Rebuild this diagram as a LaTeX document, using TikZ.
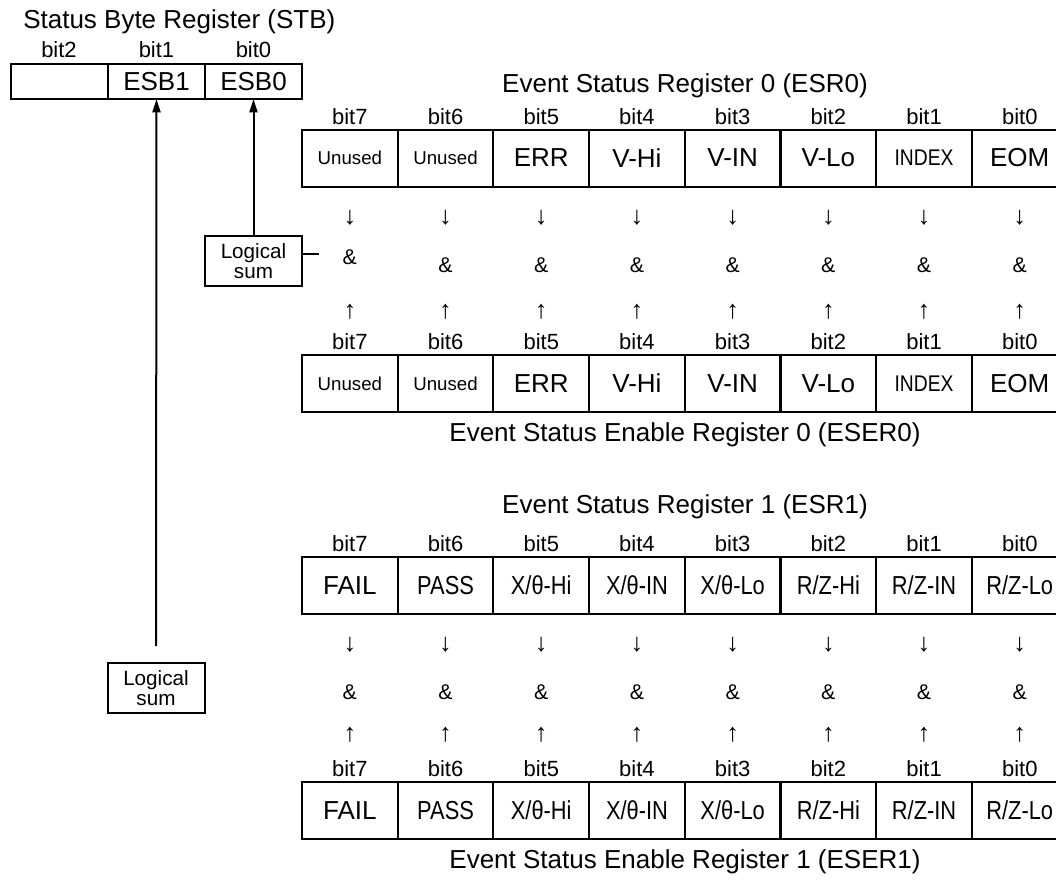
\documentclass[tikz,border=0pt]{standalone}
\usepackage{fontspec}
\setmainfont{Liberation Sans}
\usepackage{graphicx}
\usetikzlibrary{arrows.meta}
\newcommand\ttlf{\fontsize{19.5}{23}\selectfont}
\newcommand\bitf{\fontsize{16.5}{20}\selectfont}
\newcommand\arrf{\fontsize{19}{20}\selectfont}
\newcommand\cellf{\fontsize{19.5}{22}\selectfont}
\newcommand\smf{\fontsize{14}{16}\selectfont}
\newcommand\lsf{\fontsize{15.5}{15}\selectfont}
\newcommand\ampf{\fontsize{16}{18}\selectfont}
\newcommand\cnd[1]{\scalebox{0.84}[1]{\fontsize{19.5}{22}\selectfont #1}}
\newcommand\idx[1]{\scalebox{0.85}[1]{\fontsize{17}{20}\selectfont #1}}
\begin{document}
\begin{tikzpicture}[x=0.75pt,y=-0.75pt,
  box/.style={draw, line width=1.5pt, inner sep=0pt, outer sep=0pt},
  regcell/.style={box, minimum width=71.8pt, minimum height=42.75pt, font=\cellf},
  stbcell/.style={box, minimum width=72.75pt, minimum height=26.25pt, font=\cellf},
  lsbox/.style={box, minimum width=72.75pt, minimum height=37.5pt, align=center, font=\lsf},
  lbl/.style={inner sep=0pt},
  bitlbl/.style={lbl, font=\bitf},
  arrlbl/.style={lbl, font=\arrf},
  ttl/.style={lbl, font=\ttlf},
  amp/.style={lbl, font=\ampf},
  conn/.style={line width=1.5pt, -{Triangle[length=10pt,width=6pt]}},
]
\useasboundingbox (0,0) rectangle (1056,882);
\clip (0,0) rectangle (1056,882);

% Status Byte Register
\node[ttl, anchor=west] (stbt) at (23,22) {Status Byte Register (STB)};
\node[stbcell] (stb2) at (59,81.5) {};
\node[stbcell] (stb1) at (156.5,81.5) {ESB1};
\node[stbcell] (stb0) at (253.5,81.5) {ESB0};
\node[bitlbl] (sb2) at (59,50) {bit2};
\node[bitlbl] (sb1) at (156.5,50) {bit1};
\node[bitlbl] (sb0) at (253.5,50) {bit0};

% Titles
\node[ttl] (t0) at (685,86) {Event Status Register 0 (ESR0)};
\node[ttl] (t1) at (685,435) {Event Status Enable Register 0 (ESER0)};
\node[ttl] (t2) at (685,507) {Event Status Register 1 (ESR1)};
\node[ttl] (t3) at (685,862) {Event Status Enable Register 1 (ESER1)};

% Register rows
\foreach \t [count=\k from 0] in {{\smf Unused},{\smf Unused},ERR,V-Hi,V-IN,V-Lo,{\idx{INDEX}},EOM} {
  \node[regcell] (a\k) at ({349.85+95.7*\k},158) {\t};
  \node[regcell] (b\k) at ({349.85+95.7*\k},383.5) {\t};
}
\foreach \t [count=\k from 0] in {FAIL,{\cnd{PASS}},{\cnd{X/θ-Hi}},{\cnd{X/θ-IN}},{\cnd{X/θ-Lo}},{\cnd{R/Z-Hi}},{\cnd{R/Z-IN}},{\cnd{R/Z-Lo}}} {
  \node[regcell] (c\k) at ({349.85+95.7*\k},585.5) {\t};
  \node[regcell] (d\k) at ({349.85+95.7*\k},810.5) {\t};
}

% bit labels, arrows and ampersands
\foreach \k in {0,...,7} {
  \pgfmathtruncatemacro\b{7-\k}
  \node[bitlbl] (ab\k) at ({349.85+95.7*\k},117) {bit\b};
  \node[bitlbl] (bb\k) at ({349.85+95.7*\k},342) {bit\b};
  \node[bitlbl] (cb\k) at ({349.85+95.7*\k},544) {bit\b};
  \node[bitlbl] (db\k) at ({349.85+95.7*\k},769) {bit\b};
  \node[arrlbl] (ad\k) at ({349.85+95.7*\k},218) {↓};
  \node[arrlbl] (au\k) at ({349.85+95.7*\k},312) {↑};
  \node[arrlbl] (cd\k) at ({349.85+95.7*\k},645) {↓};
  \node[arrlbl] (cu\k) at ({349.85+95.7*\k},735) {↑};
  \node[amp] (cm\k) at ({349.85+95.7*\k},692) {\&};
}
\node[amp] (am0) at (349.85,257) {\&};
\foreach \k in {1,...,7} {
  \node[amp] (am\k) at ({349.85+95.7*\k},265) {\&};
}

% Logical sum boxes
\node[lsbox] (ls1) at (253.5,261) {Logical\\sum};
\node[lsbox] (ls2) at (156,688) {Logical\\sum};
\coordinate (dashend) at (319,254);
\draw[line width=0.8pt] (ls1.east |- dashend) -- (dashend);

% connectors to STB
\draw[conn] (ls1.north) -- (stb0.south);
\draw[conn] ([yshift=12.75pt]ls2.north) -- (stb1.south);
\end{tikzpicture}
\end{document}
